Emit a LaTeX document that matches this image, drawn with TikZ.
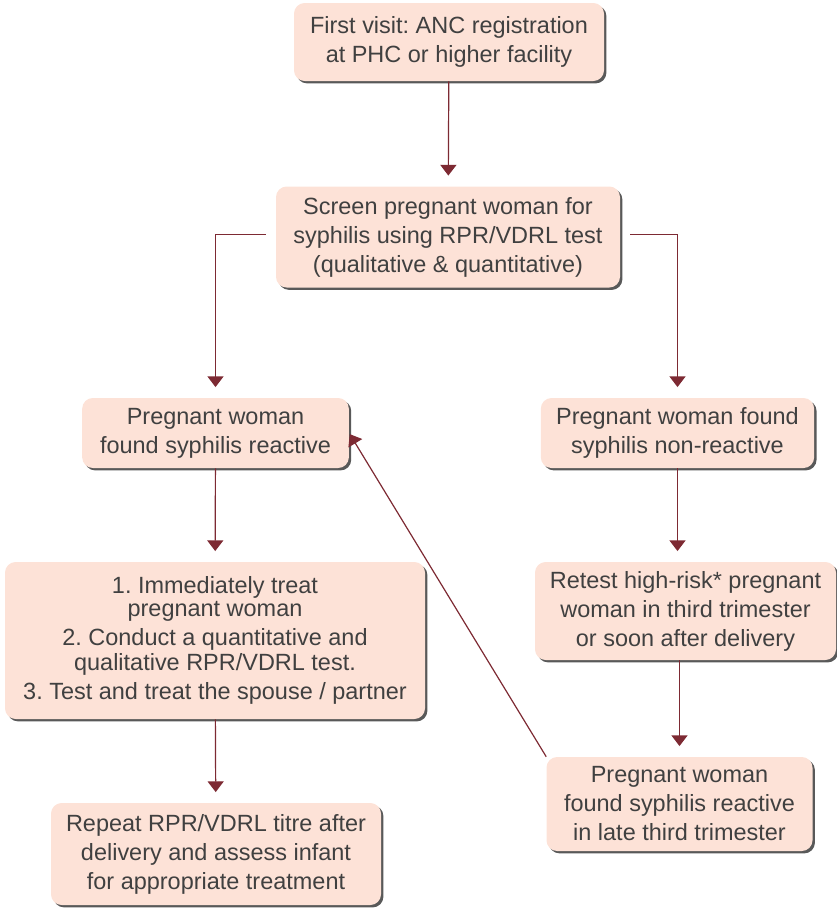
\documentclass[tikz,border=0pt]{standalone}
\usepackage{fontspec}
\setmainfont{Liberation Sans}
\usetikzlibrary{arrows.meta,shadows}
\definecolor{boxfill}{HTML}{FDE2D7}
\definecolor{boxtext}{HTML}{404040}
\definecolor{flowline}{HTML}{7D2A33}
\tikzset{
  stepbox/.style={fill=boxfill, rounded corners=8pt, inner sep=0pt, align=center,
    text=boxtext, font=\fontsize{17.6}{21.75}\selectfont\frenchspacing,
    drop shadow={shadow xshift=1.8pt, shadow yshift=-1.8pt, fill=black!65, opacity=1}},
  flow/.style={draw=flowline, line width=0.9pt,
    -{Triangle[width=12pt, length=8pt]}, shorten >=8pt}
}
\begin{document}
\begin{tikzpicture}[x=0.75pt, y=-0.75pt]
  \useasboundingbox (0,0) rectangle (837,908);
  % boxes
  \node[stepbox, minimum width=232.5pt, minimum height=58.5pt] (visit) at (449,42)
    {First visit: ANC registration\\at PHC or higher facility};
  \node[stepbox, minimum width=258pt, minimum height=75.75pt] (screen) at (448,237)
    {Screen pregnant woman for\\syphilis using RPR/VDRL test\\(qualitative \& quantitative)};
  \node[stepbox, minimum width=200pt, minimum height=52.5pt] (reactive) at (215.5,433)
    {Pregnant woman\\found syphilis reactive};
  \node[stepbox, minimum width=205pt, minimum height=52.5pt] (nonreactive) at (677.5,433)
    {Pregnant woman found\\syphilis non-reactive};
  \node[stepbox, minimum width=315pt, minimum height=117.75pt] (treat) at (215,640.5)
    {1. Immediately treat\\[-4.5pt]pregnant woman\\2. Conduct a quantitative and\\[-3pt]qualitative RPR/VDRL test.\\3. Test and treat the spouse / partner};
  \node[stepbox, minimum width=225.75pt, minimum height=73.5pt] (retest) at (685.5,611)
    {Retest high-risk* pregnant\\woman in third trimester\\or soon after delivery};
  \node[stepbox, minimum width=247.5pt, minimum height=76.5pt] (repeat) at (216,854)
    {Repeat RPR/VDRL titre after\\delivery and assess infant\\for appropriate treatment};
  \node[stepbox, minimum width=199.5pt, minimum height=70.5pt] (late) at (679.5,804)
    {Pregnant woman\\found syphilis reactive\\in late third trimester};
  % connectors
  \draw[flow] (visit) -- (screen);
  \draw[flow, shorten <=7.5pt] ([yshift=2pt]screen.west) -| (reactive.north);
  \draw[flow, shorten <=7.5pt] ([yshift=2pt]screen.east) -| (nonreactive.north);
  \draw[flow] (reactive) -- (treat);
  \draw[flow] (nonreactive) -- (retest.north -| nonreactive.south);
  \draw[flow] (treat) -- (repeat);
  \draw[flow] (retest.south -| late.north) -- (late);
  \draw[flow, shorten >=1pt] (late.north west) -- (reactive.east);
\end{tikzpicture}
\end{document}
